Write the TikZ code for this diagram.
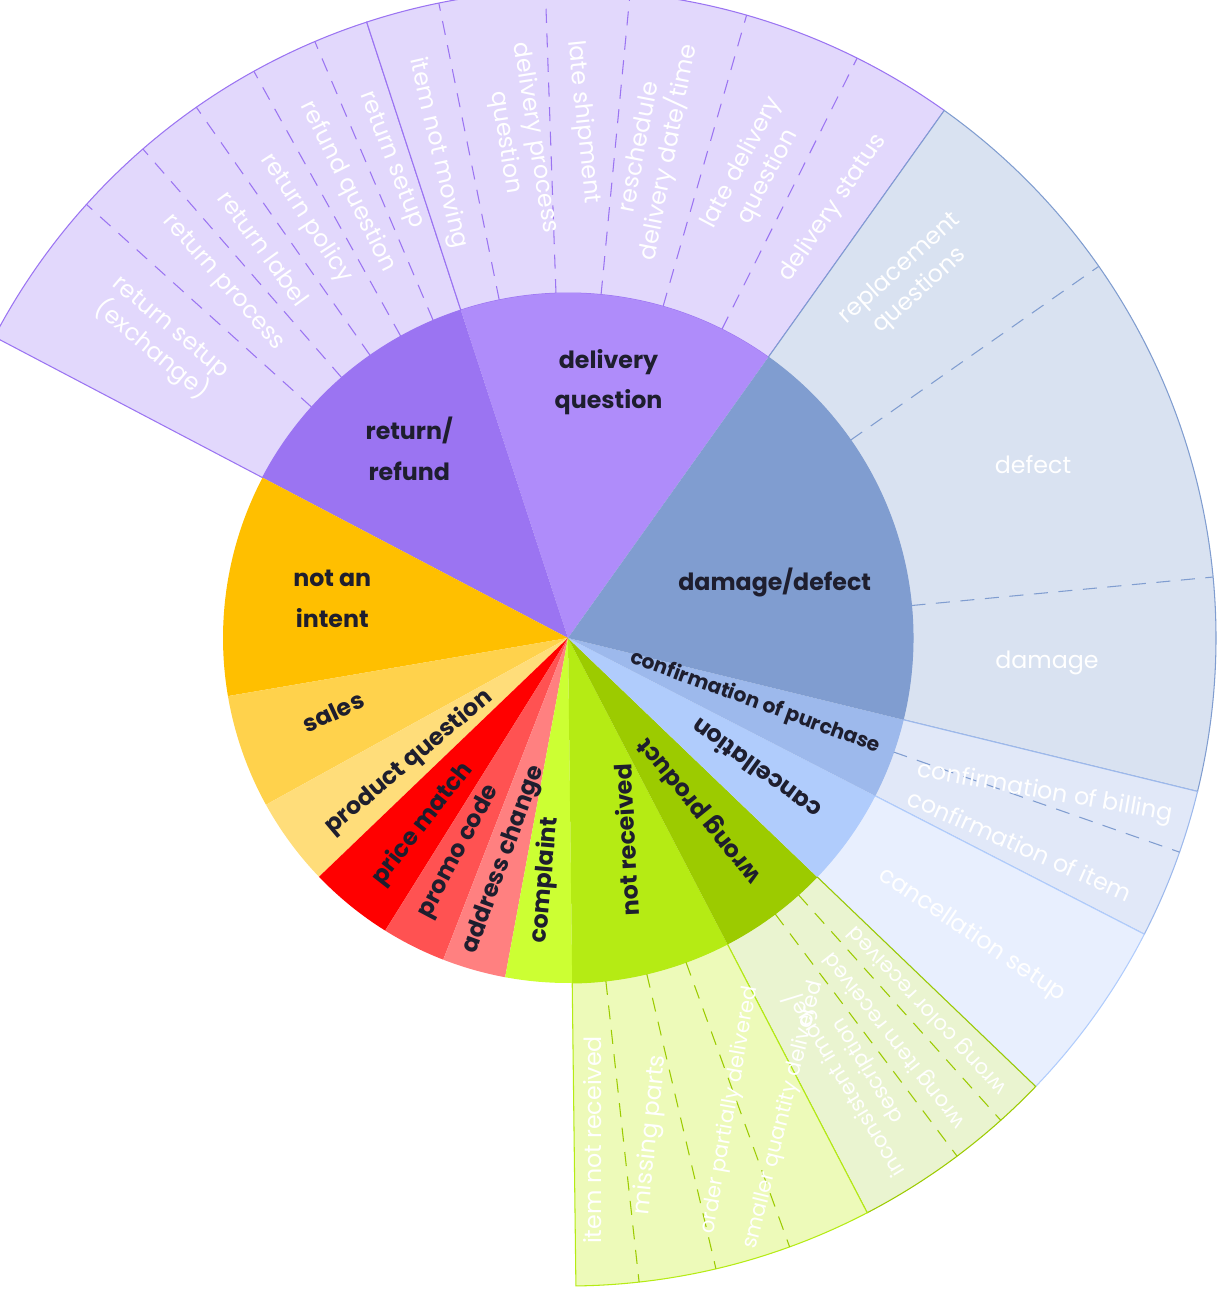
\documentclass[tikz,border=0pt]{standalone}
\usepackage{fontspec}
\setmainfont{Poppins}
\definecolor{delivIn}{HTML}{AF8CFA}
\definecolor{retIn}{HTML}{9B74F2}
\definecolor{purpOut}{HTML}{E2D8FC}
\definecolor{dmgIn}{HTML}{809DD0}
\definecolor{dmgOut}{HTML}{D9E2F1}
\definecolor{confIn}{HTML}{9DB9EC}
\definecolor{confOut}{HTML}{E1E8F8}
\definecolor{cancIn}{HTML}{B0CCFC}
\definecolor{cancOut}{HTML}{E8EFFE}
\definecolor{wrongIn}{HTML}{9CCB00}
\definecolor{wrongOut}{HTML}{EAF4D0}
\definecolor{notrecIn}{HTML}{B5EB14}
\definecolor{notrecOut}{HTML}{EDFAB9}
\definecolor{complIn}{HTML}{CCFF33}
\definecolor{addrIn}{HTML}{FF8080}
\definecolor{promoIn}{HTML}{FF5252}
\definecolor{priceIn}{HTML}{FF0000}
\definecolor{prodIn}{HTML}{FFDD7A}
\definecolor{salesIn}{HTML}{FFD24C}
\definecolor{notintIn}{HTML}{FFBF00}
\definecolor{ink}{HTML}{1E1E2E}
\tikzset{
  intent/.style = {font=\fontsize{13.5}{23}\selectfont\bfseries, text=ink, align=center, inner sep=1pt},
  sub/.style    = {font=\fontsize{13.5}{17}\selectfont, text=white, align=center, inner sep=1pt},
  small sub/.style = {sub, font=\fontsize{12}{15}\selectfont},
  cut/.style    = {dash pattern=on 8pt off 6pt, line width=0.6pt}
}
% wedge between two angles and two radii
\newcommand{\wedgeslice}[5]{%
  \path[#5] (#1:#3) arc[start angle=#1, end angle=#2, radius=#3]
    -- (#2:#4) arc[start angle=#2, end angle=#1, radius=#4] -- cycle;}

\begin{document}
\begin{tikzpicture}[x=0.02cm, y=0.02cm]
\useasboundingbox (0,-1308) rectangle (1224,0);

\begin{scope}[shift={(568,-638)}]
% outer ring, second level
\wedgeslice{108.1}{152.3}{345}{648}{fill=purpOut, draw=retIn, line width=0.6pt}
\wedgeslice{54.5}{108.1}{345}{648}{fill=purpOut, draw=retIn, line width=0.6pt}
\wedgeslice{-13.7}{54.5}{345}{648}{fill=dmgOut, draw=dmgIn, line width=0.6pt}
\wedgeslice{-27.2}{-13.7}{345}{648}{fill=confOut, draw=confIn, line width=0.6pt}
\wedgeslice{-43.8}{-27.2}{345}{648}{fill=cancOut, draw=cancIn, line width=0.6pt}
\wedgeslice{-62.5}{-43.8}{345}{648}{fill=wrongOut, draw=wrongIn, line width=0.6pt}
\wedgeslice{-89.3}{-62.5}{345}{648}{fill=notrecOut, draw=notrecIn, line width=0.6pt}

% dashed cuts between the children
\foreach \a in {113,119,125,131,138}
  \draw[cut, retIn] (\a:345) -- (\a:648);
\foreach \a in {63.5,74,84.5,92,101.5}
  \draw[cut, retIn] (\a:345) -- (\a:648);
\foreach \a in {5.4,35}
  \draw[cut, dmgIn] (\a:345) -- (\a:648);
\draw[cut, dmgIn] (-19.3:345) -- (-19.3:648);
\foreach \a in {-48.1,-53.1}
  \draw[cut, wrongIn] (\a:345) -- (\a:648);
\foreach \a in {-70,-76.8,-83.7}
  \draw[cut, wrongIn] (\a:345) -- (\a:648);

% inner ring, intents
\wedgeslice{54.5}{108.1}{0}{345}{fill=delivIn}
\wedgeslice{108.1}{152.3}{0}{345}{fill=retIn}
\wedgeslice{152.3}{189.7}{0}{345}{fill=notintIn}
\wedgeslice{189.7}{208.9}{0}{345}{fill=salesIn}
\wedgeslice{208.9}{223.8}{0}{345}{fill=prodIn}
\wedgeslice{223.8}{238}{0}{345}{fill=priceIn}
\wedgeslice{238}{248.8}{0}{345}{fill=promoIn}
\wedgeslice{248.8}{259.5}{0}{345}{fill=addrIn}
\wedgeslice{259.5}{270.7}{0}{345}{fill=complIn}
\wedgeslice{-89.3}{-62.5}{0}{345}{fill=notrecIn}
\wedgeslice{-62.5}{-43.8}{0}{345}{fill=wrongIn}
\wedgeslice{-43.8}{-27.2}{0}{345}{fill=cancIn}
\wedgeslice{-27.2}{-13.7}{0}{345}{fill=confIn}
\wedgeslice{-13.7}{54.5}{0}{345}{fill=dmgIn}

% intent labels
\node[intent] (deliv)  at (81:259)    {delivery\\question};
\node[intent] (ret)    at (130:247)   {return/\\refund};
\node[intent] (notint) at (170.6:239) {not an\\intent};
\node[intent, rotate=25] (sales) at (-162.5:246) {sales};
\node[intent, rotate=40] (prod)  at (-142:202)   {product question};
\node[intent, rotate=52] (price) at (-128:236)   {price match};
\node[intent, rotate=62] (promo) at (-117:240)   {promo code};
\node[intent, rotate=70] (addr)  at (-106:231)   {address change};
\node[intent, rotate=85] (compl) at (-95.4:243)  {complaint};
\node[intent, rotate=93] (notrec) at (-74:210)   {not received};
\node[intent, rotate=129] (wrong) at (-52.5:217) {wrong product};
\node[intent, rotate=144] (canc)  at (-35:229)   {cancellation};
\node[intent, rotate=-20, font=\fontsize{11.5}{14}\selectfont\bfseries] (conf) at (-19:198) {confirmation of purchase};
\node[intent] (dmg) at (15:214) {damage/defect};
\end{scope}

% second level labels
\begin{scope}[every node/.style={sub}]
\node[rotate=-40] (retx)   at (160,-340) {return setup\\(exchange)};
\node[rotate=-49] (retp)   at (223,-283) {return process};
\node[rotate=-54] (retl)   at (264,-248) {return label};
\node[rotate=-57] (retpol) at (306,-218) {return policy};
\node[rotate=-63.5] (refq) at (348,-187) {refund question};
\node[rotate=-69] (rets)   at (391,-160) {return setup};
\node[rotate=-77] (dnm)    at (438,-153) {item not moving};
\node[rotate=-81] (dproc)  at (520,-140) {delivery process\\question};
\node[rotate=-84] (dlate)  at (583,-122) {late shipment};
\node[rotate=79]  (dres)   at (655,-150) {reschedule\\delivery date/time};
\node[rotate=62]  (dlq)    at (755,-170) {late delivery\\question};
\node[rotate=56]  (dstat)  at (833,-208) {delivery status};
\node[rotate=42]  (repl)   at (910,-280) {replacement\\questions};
\node (defect) at (1033,-465) {defect};
\node (damage) at (1047,-663) {damage};
\node[rotate=-10] (cbill)  at (1045,-793) {confirmation of billing};
\node[rotate=-24] (citem)  at (1020,-845) {confirmation of item};
\node[rotate=-34] (csetup) at (972,-935)  {cancellation setup};
\node[small sub, rotate=133] (wcol)  at (928,-1010) {wrong color received};
\node[small sub, rotate=128] (witem) at (895,-1040) {wrong item received};
\node[small sub, rotate=121] (wimg)  at (856,-1078) {inconsistent image/\\description};
\node[rotate=90]  (nitem)  at (593,-1140) {item not received};
\node[rotate=84]  (nmiss)  at (651,-1135) {missing parts};
\node[small sub, rotate=80] (npart)  at (730,-1110) {order partially delivered};
\node[small sub, rotate=76] (nsmall) at (784,-1115) {smaller quantity delivered};
\end{scope}
\end{tikzpicture}
\end{document}
